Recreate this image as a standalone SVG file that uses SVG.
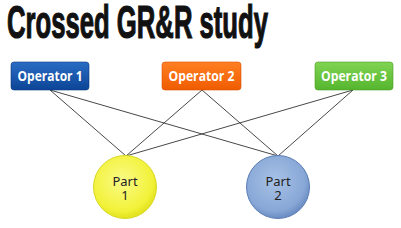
<svg xmlns="http://www.w3.org/2000/svg" width="401" height="228" viewBox="0 0 401 228">
<defs>
<linearGradient id="gBlue" x1="0" y1="0" x2="0" y2="1"><stop offset="0" stop-color="#2a6cc4"/><stop offset="1" stop-color="#0c4596"/></linearGradient>
<linearGradient id="gOrange" x1="0" y1="0" x2="0" y2="1"><stop offset="0" stop-color="#ff7f22"/><stop offset="1" stop-color="#f05c00"/></linearGradient>
<linearGradient id="gGreen" x1="0" y1="0" x2="0" y2="1"><stop offset="0" stop-color="#80d452"/><stop offset="1" stop-color="#55b52e"/></linearGradient>
<radialGradient id="gYellow" cx="0.45" cy="0.4" r="0.6"><stop offset="0" stop-color="#fafa88"/><stop offset="0.8" stop-color="#f2f23a"/><stop offset="1" stop-color="#e2e21e"/></radialGradient>
<radialGradient id="gLBlue" cx="0.45" cy="0.4" r="0.6"><stop offset="0" stop-color="#a8c2e6"/><stop offset="0.8" stop-color="#87a7d6"/><stop offset="1" stop-color="#6a8cc2"/></radialGradient>
</defs>
<style>
.op{font-family:"Open Sans","Liberation Sans",sans-serif;font-weight:bold;font-size:13.5px;fill:#ffffff;text-anchor:middle}
.pt{font-family:"Noto Sans","Liberation Sans",sans-serif;font-size:13px;fill:#222222;text-anchor:middle}
.ln{stroke:#333333;stroke-width:0.9;fill:none}
</style>
<text transform="translate(7,38) scale(0.6,1)" x="0" y="0" font-family="Liberation Sans, sans-serif" font-weight="bold" font-size="46" textLength="435" lengthAdjust="spacingAndGlyphs" fill="#111111" stroke="#111111" stroke-width="1.2">Crossed GR&amp;R study</text>
<g id="connectors">
<line class="ln" x1="50" y1="90" x2="126" y2="156"/>
<line class="ln" x1="50" y1="90" x2="278" y2="156"/>
<line class="ln" x1="202" y1="90" x2="126" y2="156"/>
<line class="ln" x1="202" y1="90" x2="278" y2="156"/>
<line class="ln" x1="353" y1="90" x2="126" y2="156"/>
<line class="ln" x1="353" y1="90" x2="278" y2="156"/>
</g>
<g id="op1"><rect x="11" y="62" width="78" height="28" rx="3" fill="url(#gBlue)" stroke="#0a3a80" stroke-width="0.6"/><text class="op" x="50" y="81" textLength="65" lengthAdjust="spacingAndGlyphs">Operator 1</text></g>
<g id="op2"><rect x="162" y="62" width="79" height="28" rx="3" fill="url(#gOrange)" stroke="#d85000" stroke-width="0.6"/><text class="op" x="201.5" y="81" textLength="66" lengthAdjust="spacingAndGlyphs">Operator 2</text></g>
<g id="op3"><rect x="315" y="62" width="78" height="28" rx="3" fill="url(#gGreen)" stroke="#4aa026" stroke-width="0.6"/><text class="op" x="354" y="81" textLength="66" lengthAdjust="spacingAndGlyphs">Operator 3</text></g>
<g id="part1"><circle cx="125" cy="187" r="31.5" fill="url(#gYellow)" stroke="#d8d820" stroke-width="1"/><text class="pt" x="125" y="186">Part<tspan x="125" dy="14">1</tspan></text></g>
<g id="part2"><circle cx="278" cy="187" r="31.5" fill="url(#gLBlue)" stroke="#5a7db5" stroke-width="1"/><text class="pt" x="278" y="186">Part<tspan x="278" dy="14">2</tspan></text></g>
</svg>
